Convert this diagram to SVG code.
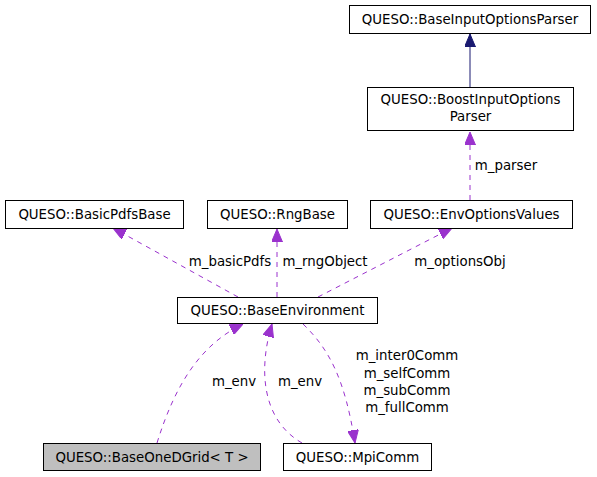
<svg xmlns="http://www.w3.org/2000/svg" width="597" height="477" viewBox="0 0 597 477">
<style>
text{font-family:"DejaVu Sans",sans-serif;font-size:13.33px;fill:#000;text-anchor:middle}
.box{fill:#fff;stroke:#000;stroke-width:1}
.grey{fill:#bfbfbf}
.dash{fill:none;stroke:#9a32cd;stroke-width:1;stroke-dasharray:5,5}
.solid{fill:none;stroke:#191970;stroke-width:1}
</style>
<defs>
<marker id="ap" markerWidth="13" markerHeight="11" viewBox="0 0 13 11" refX="13" refY="5.5" orient="auto" markerUnits="userSpaceOnUse">
<path d="M0,0 L13,5.5 L0,11 Z" fill="#9a32cd" stroke="#9a32cd" stroke-dasharray="none"/>
</marker>
<marker id="an" markerWidth="13" markerHeight="11" viewBox="0 0 13 11" refX="13" refY="5.5" orient="auto" markerUnits="userSpaceOnUse">
<path d="M0,0 L13,5.5 L0,11 Z" fill="#191970" stroke="#191970"/>
</marker>
</defs>
<rect width="597" height="477" fill="#fff"/>
<g id="connectors">
<path class="solid" d="M470,87 L470,34" marker-end="url(#an)"/>
<path class="dash" d="M470,200 L470,132" marker-end="url(#ap)"/>
<text x="506" y="170">m_parser</text>
<path class="dash" d="M238,297 L113,228" marker-end="url(#ap)"/>
<text x="230" y="266">m_basicPdfs</text>
<path class="dash" d="M277,297 L277,229" marker-end="url(#ap)"/>
<text x="325" y="266">m_rngObject</text>
<path class="dash" d="M318,297 L452,228" marker-end="url(#ap)"/>
<text x="460" y="266">m_optionsObj</text>
<path class="dash" d="M157,443 C175,385 200,345 243,324" marker-end="url(#ap)"/>
<text x="234" y="386">m_env</text>
<path class="dash" d="M302,443 C262,420 258,370 272,324" marker-end="url(#ap)"/>
<text x="300" y="386">m_env</text>
<path class="dash" d="M303,324 C330,350 345,380 355,443" marker-end="url(#ap)"/>
<text x="407" y="360">m_inter0Comm</text>
<text x="407" y="378">m_selfComm</text>
<text x="407" y="395">m_subComm</text>
<text x="407" y="412">m_fullComm</text>
</g>
<g id="BaseInputOptionsParser">
<rect class="box" x="349.5" y="5.5" width="241" height="28"/>
<text x="470" y="24">QUESO::BaseInputOptionsParser</text>
</g>
<g id="BoostInputOptionsParser">
<rect class="box" x="367.5" y="87.5" width="206" height="43"/>
<text x="470.5" y="104">QUESO::BoostInputOptions</text>
<text x="470.5" y="121">Parser</text>
</g>
<g id="BasicPdfsBase">
<rect class="box" x="5.5" y="200.5" width="178" height="28"/>
<text x="94.5" y="219">QUESO::BasicPdfsBase</text>
</g>
<g id="RngBase">
<rect class="box" x="207.5" y="200.5" width="140" height="28"/>
<text x="277.5" y="219">QUESO::RngBase</text>
</g>
<g id="EnvOptionsValues">
<rect class="box" x="370.5" y="200.5" width="202" height="28"/>
<text x="471.5" y="219">QUESO::EnvOptionsValues</text>
</g>
<g id="BaseEnvironment">
<rect class="box" x="177.5" y="297.5" width="200" height="26"/>
<text x="277.5" y="315">QUESO::BaseEnvironment</text>
</g>
<g id="BaseOneDGrid">
<rect class="box grey" x="43.5" y="443.5" width="217" height="27"/>
<text x="152" y="462">QUESO::BaseOneDGrid&lt; T &gt;</text>
</g>
<g id="MpiComm">
<rect class="box" x="283.5" y="443.5" width="148" height="27"/>
<text x="357.5" y="462">QUESO::MpiComm</text>
</g>
</svg>
